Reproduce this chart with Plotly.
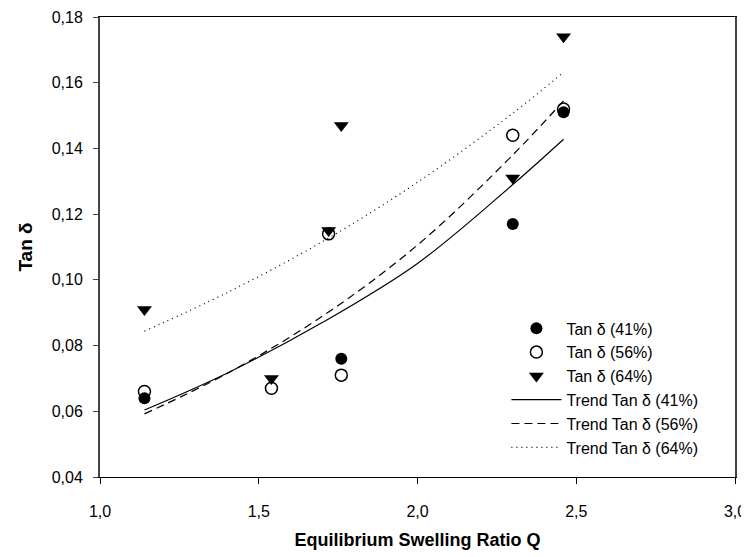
import plotly.graph_objects as go

# Data
x41 = [1.14, 1.76, 2.30, 2.46]
y41 = [0.064, 0.076, 0.117, 0.151]
x56 = [1.14, 1.54, 1.72, 1.76, 2.30, 2.46]
y56 = [0.066, 0.067, 0.114, 0.071, 0.144, 0.152]
x64 = [1.14, 1.54, 1.72, 1.76, 2.30, 2.46]
y64 = [0.091, 0.070, 0.115, 0.147, 0.131, 0.174]

trend_x = [1.14, 1.40, 1.70, 2.00, 2.30, 2.46]
trend41 = [0.0604, 0.0716, 0.0870, 0.1050, 0.1290, 0.1428]
trend56 = [0.0592, 0.0715, 0.0889, 0.1106, 0.1380, 0.1545]
trend64 = [0.0844, 0.0961, 0.1116, 0.1297, 0.1507, 0.1632]

x_ticks = [1.0, 1.5, 2.0, 2.5, 3.0]
y_ticks = [0.04, 0.06, 0.08, 0.10, 0.12, 0.14, 0.16, 0.18]

FONT = "Liberation Sans, Arial, sans-serif"

fig = go.Figure()
fig.add_trace(go.Scatter(x=x41, y=y41, mode="markers", name="Tan δ (41%)",
                         marker=dict(symbol="circle", size=12, color="black")))
fig.add_trace(go.Scatter(x=x56, y=y56, mode="markers", name="Tan δ (56%)",
                         marker=dict(symbol="circle-open", size=12, color="black",
                                     line=dict(width=1.5, color="black"))))
fig.add_trace(go.Scatter(x=x64, y=y64, mode="markers", name="Tan δ (64%)",
                         marker=dict(symbol="triangle-down", size=13, color="black")))
fig.add_trace(go.Scatter(x=trend_x, y=trend41, mode="lines", name="Trend Tan δ (41%)",
                         line=dict(color="black", width=1.2, shape="spline")))
fig.add_trace(go.Scatter(x=trend_x, y=trend56, mode="lines", name="Trend Tan δ (56%)",
                         line=dict(color="black", width=1.2, dash="8px,5px", shape="spline")))
fig.add_trace(go.Scatter(x=trend_x, y=trend64, mode="lines", name="Trend Tan δ (64%)",
                         line=dict(color="black", width=1.2, dash="1px,4px", shape="spline")))

# page body has an 8px default margin, so the figure is sized 8px smaller
fig.update_layout(
    width=741, height=549,
    margin=dict(l=92, r=14, t=9, b=80),
    paper_bgcolor="white", plot_bgcolor="white",
    separators=",.",
    font=dict(family=FONT, size=16, color="black"),
    showlegend=True,
    legend=dict(x=0.64, y=0.36, xanchor="left", yanchor="top",
                bgcolor="rgba(0,0,0,0)", borderwidth=0,
                font=dict(family=FONT, size=16), itemwidth=50,
                tracegroupgap=0),
)
fig.update_xaxes(
    range=[1.0, 3.0], tickvals=x_ticks, tickformat=".1f",
    showgrid=False, zeroline=False, automargin=False,
    showline=True, linecolor="black", linewidth=1, mirror=True,
    ticks="outside", ticklen=6, tickcolor="black", ticklabelstandoff=14,
    tickfont=dict(family=FONT, size=16),
    title=dict(text="<b>Equilibrium Swelling Ratio Q</b>",
               font=dict(family=FONT, size=18), standoff=14),
)
fig.update_yaxes(
    range=[0.04, 0.18], tickvals=y_ticks, tickformat=".2f",
    showgrid=False, zeroline=False, automargin=False,
    showline=True, linecolor="#444444", linewidth=2, mirror=True,
    ticks="outside", ticklen=5, tickcolor="#444444", ticklabelstandoff=7,
    tickfont=dict(family=FONT, size=16),
    title=dict(text="<b>Tan δ</b>", font=dict(family=FONT, size=19), standoff=14),
)

fig.write_html("out.html")
